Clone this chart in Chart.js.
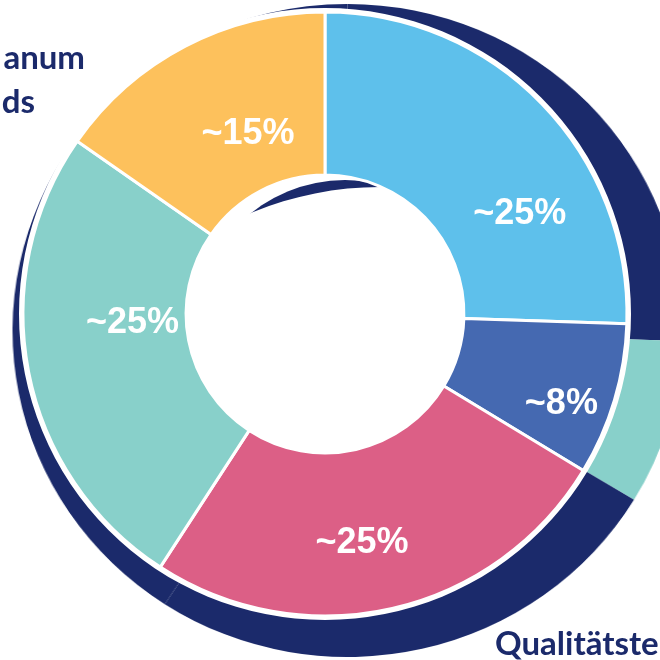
<!DOCTYPE html>
<html>
<head>
<meta charset="utf-8">
<script src="https://cdn.jsdelivr.net/npm/chart.js@4.4.1/dist/chart.umd.min.js"></script>
<style>
  html, body { margin: 0; padding: 0; background: #fff; }
  body { width: 660px; height: 660px; overflow: hidden; position: relative; }
  .layer { position: absolute; }
  /* back ring is a touch wider than tall */
  #backWrap { left: 20.5px; top: 3.5px; width: 653px; height: 653px; transform: scaleX(1.026); transform-origin: center; }
  #shadeClip { left: 0; top: 0; width: 660px; height: 660px; clip-path: circle(150px at 345px 330px); }
  #shadeWrap { left: 30px; top: 170px; }
  #frontWrap { left: 15px; top: 4px; }
  .name {
    position: absolute;
    font-family: Lato, "Open Sans", sans-serif;
    font-weight: 700;
    font-size: 33px;
    line-height: 1;
    color: #1b2a6b;
    white-space: nowrap;
  }
</style>
</head>
<body>
<div class="layer" id="backWrap"><canvas id="back" width="653" height="653"></canvas></div>
<div class="layer" id="shadeClip">
  <div class="layer" id="shadeWrap"><canvas id="shade" width="700" height="700"></canvas></div>
</div>
<div class="layer" id="frontWrap"><canvas id="front" width="620" height="620"></canvas></div>
<div class="name" style="right:575px; top:40px;">anum</div>
<div class="name" style="right:625px; top:84px;">ds</div>
<div class="name" style="left:495px; top:626px;">Qualitätste</div>

<script>
const NAVY = "#1b2a6b";

const values = [25, 8, 25, 25, 15];
const valueLabels = ["~25%", "~8%", "~25%", "~25%", "~15%"];
const sliceColors = ["#5ec0eb", "#4569b1", "#dc5f86", "#88d0ca", "#fdc15c"];
const backColors = [NAVY, "#88d0ca", NAVY, NAVY, NAVY];

// where each label sits: fraction along the arc, fraction across the ring
const labelAnchors = [
  [0.685, 0.49],
  [0.65, 0.7],
  [0.54, 0.57],
  [0.59, 0.33],
  [0.58, 0.35],
];

const sliceLabels = {
  id: "sliceLabels",
  afterDatasetsDraw(chart, args, opts) {
    const meta = chart.getDatasetMeta(1);
    const ctx = chart.ctx;
    ctx.save();
    ctx.font = opts.font;
    ctx.fillStyle = opts.color;
    ctx.textAlign = "center";
    ctx.textBaseline = "middle";
    meta.data.forEach((arc, i) => {
      const p = arc.getProps(
        ["x", "y", "startAngle", "endAngle", "innerRadius", "outerRadius"],
        true
      );
      const [f, g] = opts.anchors[i];
      const a = p.startAngle + f * (p.endAngle - p.startAngle);
      const r = p.innerRadius + g * (p.outerRadius - p.innerRadius);
      ctx.fillText(valueLabels[i], p.x + Math.cos(a) * r, p.y + Math.sin(a) * r);
    });
    ctx.restore();
  },
};

const baseOptions = {
  responsive: false,
  animation: false,
  devicePixelRatio: 1,
  events: [],
  layout: { padding: 0 },
  plugins: { legend: { display: false }, tooltip: { enabled: false } },
};

function opts(extra) {
  return Object.assign({}, baseOptions, extra);
}

// back navy ring with the highlighted slice
new Chart(document.getElementById("back"), {
  type: "doughnut",
  data: {
    datasets: [{ data: values, backgroundColor: backColors, borderWidth: 0 }],
  },
  options: opts({ radius: 326.5, cutout: "52%" }),
});

// thin shadow seen through the hole
new Chart(document.getElementById("shade"), {
  type: "doughnut",
  data: {
    datasets: [{ data: [1], backgroundColor: NAVY, borderWidth: 0 }],
  },
  options: opts({ radius: 350, cutout: "95.14%" }),
});

new Chart(document.getElementById("front"), {
  type: "doughnut",
  data: {
    datasets: [
      { data: [1], backgroundColor: "#ffffff", borderWidth: 0, weight: 4 },
      {
        data: values,
        backgroundColor: sliceColors,
        borderColor: "#ffffff",
        borderWidth: 3,
        weight: 163,
      },
    ],
  },
  options: opts({
    radius: 306,
    cutout: "45.4%",
    plugins: {
      legend: { display: false },
      tooltip: { enabled: false },
      sliceLabels: {
        font: "bold 36px 'Liberation Sans', Arial, sans-serif",
        color: "#ffffff",
        anchors: labelAnchors,
      },
    },
  }),
  plugins: [sliceLabels],
});
</script>
</body>
</html>
